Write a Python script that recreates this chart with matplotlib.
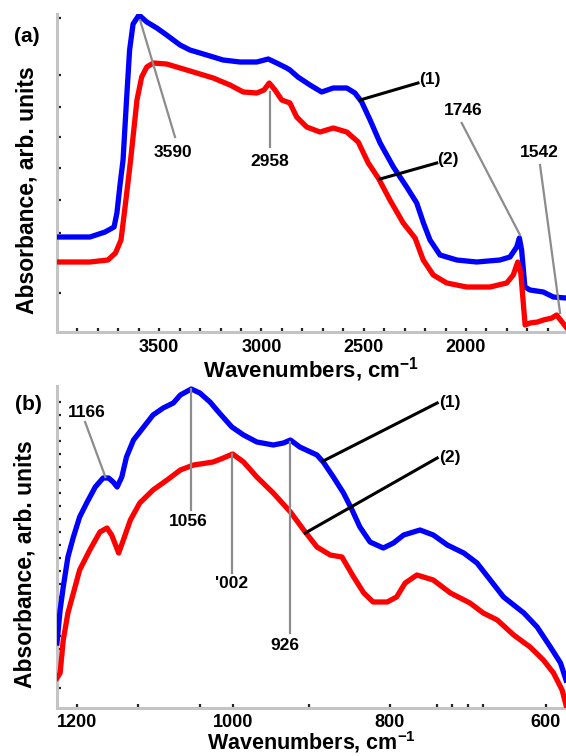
import matplotlib
matplotlib.use("Agg")
import matplotlib.pyplot as plt

plt.rcParams['font.family'] = ['Liberation Sans', 'DejaVu Sans']
plt.rcParams['font.weight'] = 'bold'
plt.rcParams['axes.labelweight'] = 'bold'
plt.rcParams['mathtext.fontset'] = 'custom'
plt.rcParams['mathtext.rm'] = 'Liberation Sans:bold'
plt.rcParams['mathtext.it'] = 'Liberation Sans:bold'
plt.rcParams['mathtext.bf'] = 'Liberation Sans:bold'
plt.rcParams['mathtext.default'] = 'rm'

# panel (a): 4000-1500 cm-1
wn_a1 = [4000, 3839, 3765, 3721, 3707, 3692, 3677, 3660, 3645, 3628, 3599, 3561, 3512,
         3464, 3398, 3350, 3268, 3188, 3105, 3023, 2967, 2926, 2877, 2861, 2822, 2763,
         2706, 2649, 2583, 2543, 2510, 2469, 2420, 2355, 2290, 2241, 2208, 2176, 2127,
         2045, 1948, 1834, 1785, 1752, 1739, 1728, 1712, 1687, 1622, 1573, 1511]
abs_a1 = [0.95, 0.95, 1.00, 1.05, 1.19, 1.47, 1.72, 2.32, 2.82, 3.08, 3.17, 3.10, 3.04,
          2.97, 2.87, 2.82, 2.77, 2.72, 2.70, 2.70, 2.73, 2.69, 2.64, 2.62, 2.55, 2.47,
          2.40, 2.44, 2.44, 2.39, 2.30, 2.12, 1.89, 1.65, 1.45, 1.29, 1.09, 0.92, 0.77,
          0.72, 0.70, 0.72, 0.75, 0.85, 0.94, 0.82, 0.45, 0.42, 0.40, 0.35, 0.34]
wn_a2 = [4000, 3839, 3751, 3714, 3687, 3663, 3640, 3609, 3586, 3561, 3529, 3464, 3398,
         3317, 3236, 3154, 3089, 3023, 2988, 2962, 2934, 2901, 2861, 2828, 2779, 2714,
         2649, 2583, 2527, 2478, 2429, 2372, 2307, 2249, 2209, 2160, 2094, 1997, 1883,
         1801, 1769, 1747, 1732, 1711, 1687, 1650, 1622, 1580, 1557, 1530, 1511]
abs_a2 = [0.70, 0.70, 0.72, 0.79, 0.92, 1.32, 1.72, 2.32, 2.55, 2.65, 2.69, 2.68, 2.64,
          2.59, 2.54, 2.47, 2.40, 2.39, 2.42, 2.49, 2.42, 2.32, 2.29, 2.15, 2.05, 2.00,
          2.04, 2.00, 1.90, 1.69, 1.54, 1.32, 1.09, 0.94, 0.72, 0.57, 0.49, 0.45, 0.45,
          0.49, 0.57, 0.70, 0.59, 0.07, 0.09, 0.10, 0.12, 0.14, 0.17, 0.10, 0.05]

# panel (b): 1226-574 cm-1
wn_b1 = [1226, 1222, 1218, 1212, 1205, 1197, 1188, 1177, 1167, 1160, 1154, 1149, 1143,
         1137, 1128, 1115, 1103, 1090, 1077, 1068, 1054, 1043, 1030, 1018, 1002, 987,
         970, 949, 936, 927, 915, 893, 885, 872, 859, 848, 838, 825, 808, 795, 782, 761,
         744, 726, 705, 688, 671, 654, 628, 611, 594, 581, 574]
abs_b1 = [0.65, 0.98, 1.21, 1.51, 1.71, 1.91, 2.05, 2.21, 2.30, 2.30, 2.26, 2.21, 2.31,
          2.51, 2.68, 2.81, 2.93, 3.00, 3.05, 3.13, 3.19, 3.15, 3.06, 2.95, 2.81, 2.73,
          2.66, 2.63, 2.65, 2.68, 2.61, 2.53, 2.46, 2.31, 2.15, 1.98, 1.81, 1.66, 1.60,
          1.65, 1.73, 1.78, 1.73, 1.63, 1.55, 1.45, 1.28, 1.11, 0.95, 0.81, 0.61, 0.45, 0.28]
wn_b2 = [1226, 1222, 1218, 1212, 1205, 1197, 1184, 1171, 1162, 1156, 1147, 1141, 1132,
         1120, 1103, 1085, 1068, 1051, 1026, 1013, 1001, 987, 970, 949, 927, 910, 893,
         876, 861, 846, 833, 821, 803, 791, 780, 765, 744, 722, 697, 680, 662, 641, 620,
         603, 590, 579, 574]
abs_b2 = [0.30, 0.35, 0.68, 0.95, 1.15, 1.38, 1.58, 1.76, 1.80, 1.73, 1.55, 1.68, 1.88,
          2.05, 2.18, 2.28, 2.38, 2.43, 2.46, 2.50, 2.54, 2.46, 2.31, 2.15, 1.96, 1.78, 1.61,
          1.53, 1.51, 1.31, 1.15, 1.06, 1.06, 1.11, 1.25, 1.33, 1.28, 1.15, 1.05, 0.95,
          0.88, 0.73, 0.61, 0.48, 0.35, 0.18, 0.03]

xticks_a = [3500, 3000, 2500, 2000]
xminor_a = [3900, 3800, 3700, 3600, 3400, 3300, 3200, 3100, 2900, 2800, 2700, 2600,
            2400, 2300, 2200, 2100, 1900, 1800, 1700, 1600]
xticks_b = [1200, 1000, 800, 600]
xminor_b = [1122, 1043, 903, 739, 720, 699, 680]

# peak marks: text, line start, line end, label position
peaks_a = [("3590", (3594, 3.12), (3423, 1.95), (3432, 1.79)),
           ("2958", (2958, 2.40), (2958, 1.85), (2958, 1.70)),
           ("1746", (1736, 0.97), (2021, 2.09), (2015, 2.21)),
           ("1542", (1540, 0.19), (1638, 1.67), (1643, 1.79))]
curves_a = [("(1)", (2518, 2.32), (2235, 2.49), (2176, 2.52)),
            ("(2)", (2420, 1.53), (2143, 1.69), (2088, 1.72))]
peaks_b = [("1166", (1164, 2.31), (1190, 2.86), (1188, 2.96)),
           ("1056", (1054, 3.19), (1054, 1.98), (1058, 1.87)),
           ("'002", (1002, 2.54), (1002, 1.35), (1002, 1.24)),
           ("926", (928, 2.66), (928, 0.75), (934, 0.63))]
curves_b = [("(1)", (885, 2.47), (739, 3.05), (723, 3.06)),
            ("(2)", (908, 1.75), (739, 2.50), (723, 2.51))]

fig = plt.figure(figsize=(5.66, 7.56), dpi=100)
ax_a = fig.add_axes([57 / 566, 1 - 332 / 756, 509 / 566, 318 / 756])
ax_b = fig.add_axes([57 / 566, 1 - 708 / 756, 509 / 566, 322 / 756])


def style(ax, xlim, ylim, xt, xm, yt, pad):
    ax.set_xlim(*xlim)
    ax.set_ylim(*ylim)
    for s in ['top', 'right']:
        ax.spines[s].set_visible(False)
    for s in ['left', 'bottom']:
        ax.spines[s].set_color('#c4c4c4')
        ax.spines[s].set_linewidth(2.2)
    ax.set_xticks(xt)
    ax.set_xticks(xm, minor=True)
    ax.set_yticks(yt)
    ax.tick_params(axis='both', which='both', direction='in', length=3, width=1.6,
                   color='#222222', labelsize=13)
    ax.tick_params(axis='x', pad=pad)
    ax.tick_params(axis='y', labelleft=False)
    ax.set_xlabel(r'Wavenumbers, cm$^{-1}$', fontsize=16)
    ax.set_ylabel('Absorbance, arb. units', fontsize=16.5)


def marks(ax, peaks, curves):
    for txt, p0, p1, pt in peaks:
        ax.plot([p0[0], p1[0]], [p0[1], p1[1]], color='#8c8c8c', lw=1.6, zorder=4)
        ax.text(pt[0], pt[1], txt, fontsize=12.5, ha='center', va='center', zorder=5)
    for txt, p0, p1, pt in curves:
        ax.plot([p0[0], p1[0]], [p0[1], p1[1]], color='black', lw=2.2, zorder=4)
        ax.text(pt[0], pt[1], txt, fontsize=12.5, ha='center', va='center', zorder=5)


ax_a.plot(wn_a1, abs_a1, color='#0000ff', lw=3.8, solid_joinstyle='round', zorder=3)
ax_a.plot(wn_a2, abs_a2, color='#ff0000', lw=3.8, solid_joinstyle='round', zorder=3)
style(ax_a, (4000, 1511), (0, 3.18), xticks_a, xminor_a,
      [3.14, 2.57, 2.25, 1.95, 1.64, 1.32, 0.99, 0.69, 0.39], pad=5)
marks(ax_a, peaks_a, curves_a)
ax_a.xaxis.set_label_coords(0.5, -0.072)
ax_a.yaxis.set_label_coords(-0.037, 0.445)

ax_b.plot(wn_b1, abs_b1, color='#0000ff', lw=3.8, solid_joinstyle='round', zorder=3)
ax_b.plot(wn_b2, abs_b2, color='#ff0000', lw=3.8, solid_joinstyle='round', zorder=3)
style(ax_b, (1226, 574), (0, 3.22), xticks_b, xminor_b,
      [0.2 + 0.13 * i for i in range(23)], pad=4)
ax_b.xaxis.label.set_fontsize(15.5)
ax_b.xaxis.label.set_va('bottom')
marks(ax_b, peaks_b, curves_b)
ax_b.xaxis.set_label_coords(0.5, -0.146)
ax_b.yaxis.set_label_coords(-0.041, 0.447)

fig.text(27 / 566, 1 - 36 / 756, '(a)', fontsize=15, ha='center', va='center')
fig.text(28 / 566, 1 - 405 / 756, '(b)', fontsize=15, ha='center', va='center')

fig.savefig('out.png', dpi=100)
plt.close()
